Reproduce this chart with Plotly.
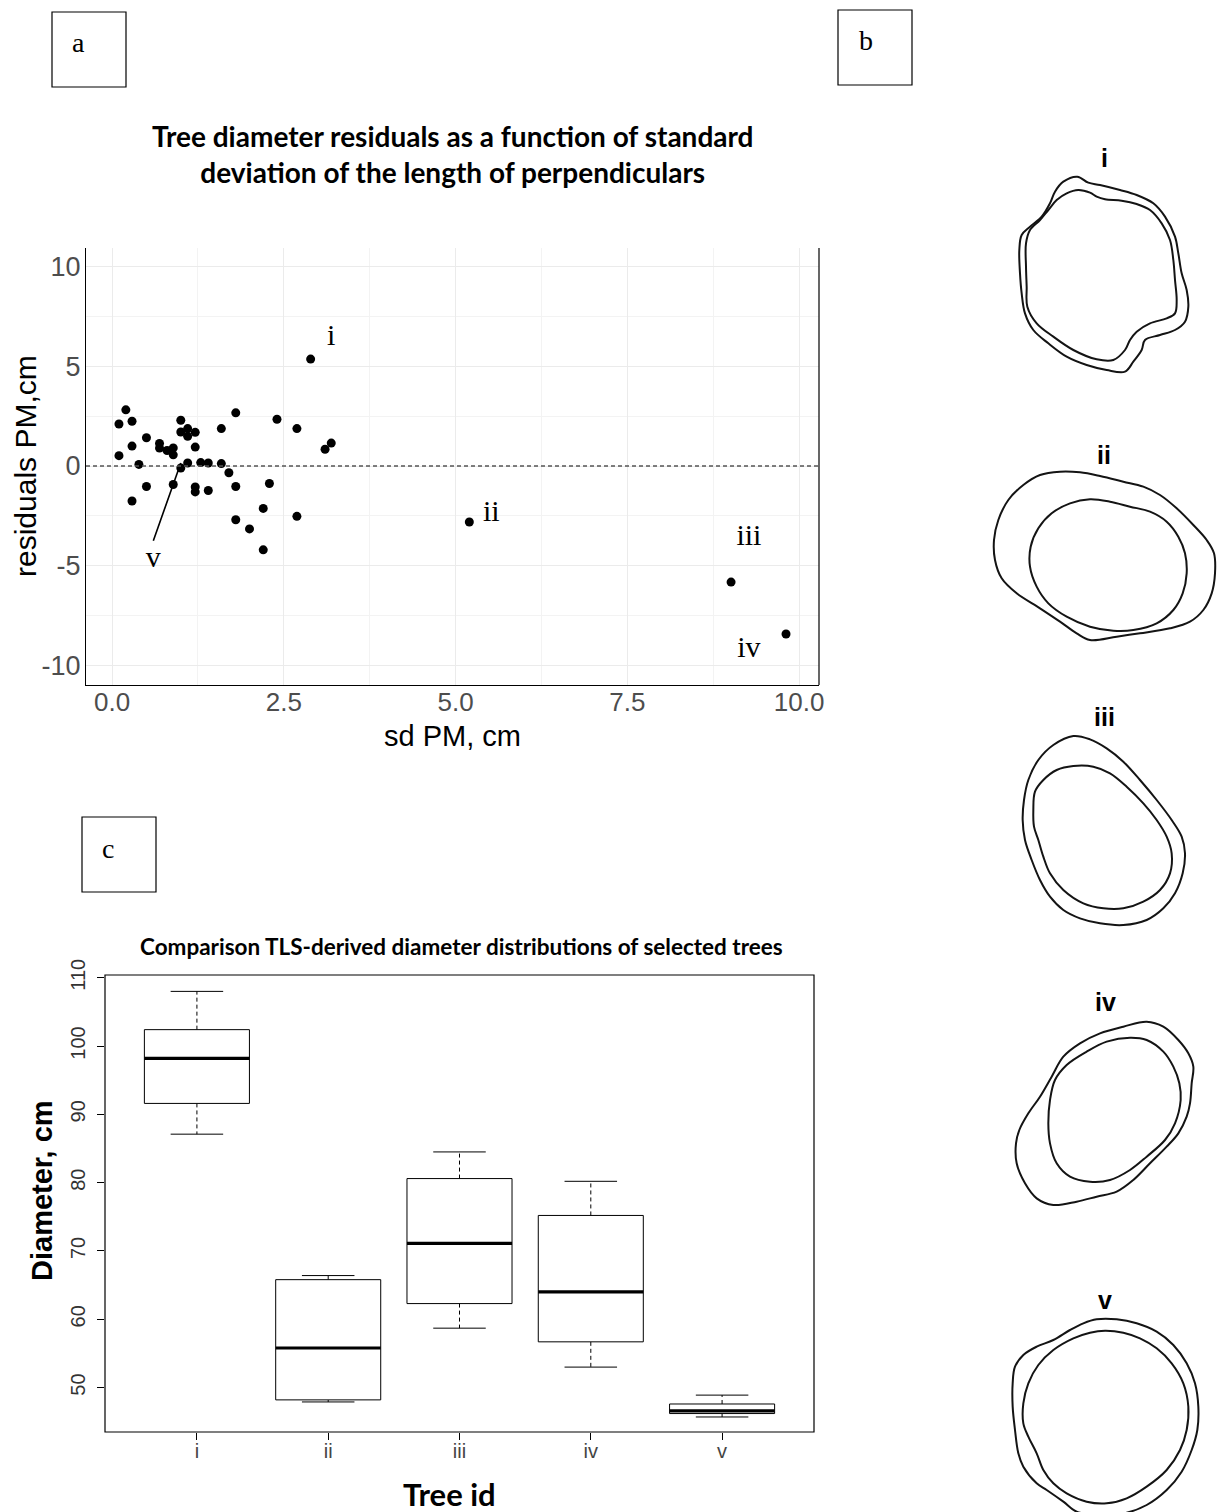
import plotly.graph_objects as go

W, H = 1221, 1512

# ---------------- Panel a data ----------------
sd_pm = [0.10, 0.20, 0.29, 0.10, 0.29, 0.50, 0.39, 0.50, 0.29, 0.69, 0.69, 0.80, 0.89, 0.89,
         1.00, 1.00, 1.10, 1.10, 1.21, 1.21, 1.10, 1.00, 0.89, 1.21, 1.21, 1.29, 1.40, 1.40,
         1.59, 1.59, 1.70, 1.80, 1.80, 1.80, 2.00, 2.20, 2.20, 2.29, 2.40, 2.69, 2.69, 2.89,
         3.10, 3.19, 5.20, 9.01, 9.81]
residuals = [2.11, 2.82, 2.25, 0.52, 1.00, 1.42, 0.08, -1.03, -1.76, 1.13, 0.90, 0.78, 0.91, 0.56,
             2.30, 1.71, 1.88, 1.49, 1.69, 0.95, 0.15, -0.10, -0.93, -1.05, -1.30, 0.17, 0.15, -1.23,
             1.88, 0.12, -0.34, 2.67, -1.03, -2.70, -3.16, -2.13, -4.21, -0.88, 2.35, 1.88, -2.53, 5.37,
             0.84, 1.15, -2.81, -5.83, -8.44]
scatter_labels = ["i", "ii", "iii", "iv", "v"]
scatter_label_x = [3.19, 5.52, 9.27, 9.27, 0.60]
scatter_label_y = [6.45, -2.40, -3.60, -9.20, -4.70]
v_pointer_x = [0.60, 1.00]
v_pointer_y = [-3.75, 0.15]
a_xticks = [0, 2.5, 5, 7.5, 10]
a_xticktext = ["0.0", "2.5", "5.0", "7.5", "10.0"]
a_yticks = [-10, -5, 0, 5, 10]
a_yticktext = ["-10", "-5", "0", "5", "10"]

# ---------------- Panel c data ----------------
tree_ids = ["i", "ii", "iii", "iv", "v"]
d_min = [87.1, 47.9, 58.7, 53.0, 45.7]
d_q1 = [91.6, 48.2, 62.3, 56.7, 46.2]
d_med = [98.2, 55.8, 71.1, 64.0, 46.6]
d_q3 = [102.4, 65.8, 80.6, 75.2, 47.6]
d_max = [108.0, 66.4, 84.5, 80.2, 48.9]
c_yticks = [50, 60, 70, 80, 90, 100, 110]

# ---------------- Panel b data (cross-section outlines, local coords) ----------------
outlines = {
    "i": {
        "outer": [(262,110),(295,128),(330,135),(390,150),(440,165),(490,190),(525,230),(555,290),
                  (565,340),(575,400),(590,450),(595,500),(585,545),(555,570),(510,585),(465,600),
                  (455,630),(430,665),(405,695),(350,690),(290,675),(230,650),(175,610),(130,570),
                  (105,520),(95,460),(90,400),(88,330),(95,285),(120,260),(155,230),(180,190),
                  (195,155),(220,125)],
        "inner": [(265,150),(300,158),(320,170),(345,178),(395,182),(440,192),(480,210),(515,250),
                  (540,300),(550,360),(555,420),(560,480),(555,520),(530,535),(480,550),(440,575),
                  (420,600),(405,630),(370,660),(320,658),(250,630),(190,590),(140,550),(112,500),
                  (110,440),(108,380),(108,310),(120,270),(150,240),(175,210),(200,180),(230,160)],
    },
    "ii": {
        "outer": [(210,95),(270,97),(330,108),(400,125),(460,140),(510,165),(560,205),(610,255),
                  (650,300),(672,340),(675,400),(665,460),(640,510),(600,545),(540,565),(450,580),
                  (380,590),(300,600),(260,580),(210,545),(150,505),(80,460),(35,415),(15,360),
                  (12,300),(25,240),(55,180),(100,135),(150,105)],
        "inner": [(300,178),(360,185),(420,200),(480,215),(530,245),(565,290),(585,340),(590,400),
                  (578,460),(550,510),(500,550),(430,570),(370,572),(300,560),(230,530),(175,490),
                  (140,440),(120,380),(122,320),(145,265),(185,220),(240,190)],
    },
    "iii": {
        "outer": [(250,108),(300,118),(350,145),(400,185),(450,240),(500,300),(545,360),(575,410),
                  (585,460),(578,520),(555,580),(520,625),(470,660),(400,675),(330,670),(270,655),
                  (220,630),(180,590),(150,540),(125,480),(105,420),(98,360),(102,300),(115,240),
                  (145,180),(190,135)],
        "inner": [(250,198),(310,200),(360,220),(410,260),(460,310),(500,360),(530,410),(545,460),
                  (540,520),(510,570),(460,605),(400,625),(340,625),(280,610),(220,570),(180,520),
                  (160,470),(145,420),(132,380),(130,330),(135,275),(160,240),(200,210)],
    },
    "iv": {
        "outer": [(470,95),(520,110),(565,150),(595,190),(610,230),(605,280),(600,340),(590,380),
                  (565,430),(530,470),(480,520),(430,570),(380,605),(320,620),(260,635),(190,645),
                  (140,625),(105,580),(80,520),(78,460),(88,420),(115,370),(150,320),(185,260),
                  (220,200),(270,160),(330,130),(400,110)],
        "inner": [(420,143),(470,150),(520,185),(550,230),(568,280),(572,330),(555,400),(525,450),
                  (470,500),(420,540),(360,570),(300,575),(240,560),(200,520),(180,460),(175,400),
                  (180,330),(195,270),(230,225),(290,185),(350,155)],
    },
    "v": {
        "outer": [(320,88),(380,88),(440,100),(500,125),(550,165),(590,220),(615,280),(625,350),
                  (622,420),(605,480),(575,545),(530,600),(470,645),(410,668),(340,675),(260,665),
                  (220,635),(170,600),(140,580),(100,530),(85,490),(75,420),(68,350),(68,280),
                  (75,230),(100,195),(140,170),(190,150),(240,120),(280,100)],
        "inner": [(345,122),(400,128),(450,145),(500,175),(545,220),(580,280),(595,350),(590,420),
                  (570,480),(530,540),(470,590),(410,625),(350,640),(290,635),(230,610),(190,580),
                  (160,540),(140,490),(115,440),(100,400),(100,340),(115,280),(145,225),(190,180),
                  (250,145),(300,128)],
    },
}

# ---------------- layout helpers ----------------
def px_x(x):
    return x / W

def px_y(y):
    return 1 - y / H

fig = go.Figure()

# ===== Panel a: scatter =====
fig.add_trace(go.Scatter(x=sd_pm, y=residuals, mode="markers",
                         marker=dict(color="black", size=9),
                         xaxis="x", yaxis="y", showlegend=False, hoverinfo="skip"))
fig.add_trace(go.Scatter(x=v_pointer_x, y=v_pointer_y, mode="lines",
                         line=dict(color="black", width=1.6),
                         xaxis="x", yaxis="y", showlegend=False, hoverinfo="skip"))
fig.add_trace(go.Scatter(x=scatter_label_x, y=scatter_label_y, mode="text", text=scatter_labels,
                         textfont=dict(family="Liberation Serif", size=30, color="black"),
                         xaxis="x", yaxis="y", showlegend=False, hoverinfo="skip"))

# ===== Panel c: boxplots drawn from stats =====
box_half = 0.4
cap_half = 0.2
bx, by, mx, my, wx, wy, cx, cy = [], [], [], [], [], [], [], []
for i in range(len(tree_ids)):
    p = i + 1
    bx += [p - box_half, p + box_half, p + box_half, p - box_half, p - box_half, None]
    by += [d_q1[i], d_q1[i], d_q3[i], d_q3[i], d_q1[i], None]
    mx += [p - box_half, p + box_half, None]
    my += [d_med[i], d_med[i], None]
    wx += [p, p, None, p, p, None]
    wy += [d_q3[i], d_max[i], None, d_q1[i], d_min[i], None]
    cx += [p - cap_half, p + cap_half, None, p - cap_half, p + cap_half, None]
    cy += [d_max[i], d_max[i], None, d_min[i], d_min[i], None]

fig.add_trace(go.Scatter(x=wx, y=wy, mode="lines", line=dict(color="black", width=1, dash="4px,3px"),
                         xaxis="x2", yaxis="y2", showlegend=False, hoverinfo="skip"))
fig.add_trace(go.Scatter(x=cx, y=cy, mode="lines", line=dict(color="black", width=1),
                         xaxis="x2", yaxis="y2", showlegend=False, hoverinfo="skip"))
fig.add_trace(go.Scatter(x=bx, y=by, mode="lines", line=dict(color="black", width=1),
                         fill="toself", fillcolor="white",
                         xaxis="x2", yaxis="y2", showlegend=False, hoverinfo="skip"))
fig.add_trace(go.Scatter(x=mx, y=my, mode="lines", line=dict(color="black", width=3.2),
                         xaxis="x2", yaxis="y2", showlegend=False, hoverinfo="skip"))

# ===== Panel b: outlines =====
crop_boxes = {  # pixel regions (x0, y0, width, height); local coords are 3x
    "i": (990, 140, 230, 240),
    "ii": (990, 440, 230, 210),
    "iii": (990, 700, 230, 230),
    "iv": (990, 990, 230, 220),
    "v": (990, 1290, 230, 222),
}
label_pos = {"i": (1104, 158), "ii": (1104, 455), "iii": (1104, 717), "iv": (1105, 1002), "v": (1105, 1300)}

layout_axes = {}
for k, name in enumerate(tree_ids):
    ax_n = k + 3
    x0, y0, w, h = crop_boxes[name]
    for ring in ("outer", "inner"):
        pts = outlines[name][ring] + [outlines[name][ring][0]]
        fig.add_trace(go.Scatter(x=[p[0] for p in pts], y=[p[1] for p in pts], mode="lines",
                                 line=dict(color="#141414", width=2, shape="spline", smoothing=1.0),
                                 xaxis=f"x{ax_n}", yaxis=f"y{ax_n}", showlegend=False, hoverinfo="skip"))
    layout_axes[f"xaxis{ax_n}"] = dict(domain=[px_x(x0), px_x(x0 + w)], range=[0, w * 3],
                                       visible=False, anchor=f"y{ax_n}", fixedrange=True, automargin=False)
    layout_axes[f"yaxis{ax_n}"] = dict(domain=[px_y(y0 + h), px_y(y0)], range=[h * 3, 0],
                                       visible=False, anchor=f"x{ax_n}", fixedrange=True, automargin=False)

annotations = []
shapes = []

# Panel b labels
for name in tree_ids:
    lx, ly = label_pos[name]
    annotations.append(dict(x=px_x(lx), y=px_y(ly), xref="paper", yref="paper", text=f"<b>{name}</b>",
                            showarrow=False, font=dict(family="Liberation Sans", size=25, color="black"),
                            xanchor="center", yanchor="middle"))

# Panel letters with boxes
for letter, (bx0, by0, bx1, by1), (tx, ty) in [
    ("a", (52, 12, 126, 87), (79, 42)),
    ("b", (838, 10, 912, 85), (866, 40)),
    ("c", (82, 817, 156, 892), (108, 848)),
]:
    shapes.append(dict(type="rect", xref="paper", yref="paper", x0=px_x(bx0), x1=px_x(bx1),
                       y0=px_y(by1), y1=px_y(by0), line=dict(color="black", width=1.2)))
    annotations.append(dict(x=px_x(tx), y=px_y(ty), xref="paper", yref="paper", text=letter,
                            showarrow=False, font=dict(family="Liberation Serif", size=28, color="black"),
                            xanchor="center", yanchor="middle"))

# Panel a title & axis titles
annotations.append(dict(x=px_x(452), y=px_y(154), xref="paper", yref="paper",
                        text="<b>Tree diameter residuals as a function of standard<br>deviation of the length of perpendiculars</b>",
                        showarrow=False, align="center", font=dict(family="Lato", size=28, color="black"),
                        xanchor="center", yanchor="middle"))
annotations.append(dict(x=px_x(452), y=px_y(736), xref="paper", yref="paper", text="sd PM, cm",
                        showarrow=False, font=dict(family="Liberation Sans", size=29, color="black"),
                        xanchor="center", yanchor="middle"))
annotations.append(dict(x=px_x(26), y=px_y(466), xref="paper", yref="paper", text="residuals PM,cm",
                        showarrow=False, textangle=-90, font=dict(family="Liberation Sans", size=30, color="black"),
                        xanchor="center", yanchor="middle"))

# Panel c title & axis titles
annotations.append(dict(x=px_x(461), y=px_y(947), xref="paper", yref="paper",
                        text="<b>Comparison TLS-derived diameter distributions of selected trees</b>",
                        showarrow=False, font=dict(family="Lato", size=22.5, color="black"),
                        xanchor="center", yanchor="middle"))
annotations.append(dict(x=px_x(449), y=px_y(1494), xref="paper", yref="paper", text="<b>Tree id</b>",
                        showarrow=False, font=dict(family="Lato", size=31, color="black"),
                        xanchor="center", yanchor="middle"))
annotations.append(dict(x=px_x(42), y=px_y(1191), xref="paper", yref="paper", text="<b>Diameter, cm</b>",
                        showarrow=False, textangle=-90, font=dict(family="Liberation Sans", size=29, color="black"),
                        xanchor="center", yanchor="middle"))

# Panel a: zero dashed line and right border
shapes.append(dict(type="line", xref="x domain", yref="y", x0=0, x1=1, y0=0, y1=0,
                   line=dict(color="#555555", width=1.3, dash="4px,3px")))
shapes.append(dict(type="line", xref="x domain", yref="y domain", x0=1, x1=1, y0=0, y1=1,
                   line=dict(color="black", width=1.2)))
# Panel c frame
shapes.append(dict(type="rect", xref="x2 domain", yref="y2 domain", x0=0, x1=1, y0=0, y1=1,
                   line=dict(color="black", width=1.2)))

fig.update_layout(
    width=W, height=H, margin=dict(l=0, r=0, t=0, b=0, autoexpand=False),
    paper_bgcolor="white", plot_bgcolor="white", showlegend=False,
    xaxis=dict(domain=[px_x(86), px_x(819)], range=[-0.38, 10.29], anchor="y", automargin=False,
               tickvals=a_xticks, ticktext=a_xticktext, showgrid=True, gridcolor="#ebebeb", gridwidth=1.2,
               minor=dict(tickvals=[1.25, 3.75, 6.25, 8.75], showgrid=True, gridcolor="#f3f3f3", gridwidth=0.7),
               zeroline=False, showline=True, linecolor="black", linewidth=1.2, ticks="",
               ticklabelstandoff=-6,
               tickfont=dict(family="Liberation Sans", size=26, color="#4d4d4d"), fixedrange=True),
    yaxis=dict(domain=[px_y(685), px_y(248)], range=[-11.0, 10.95], anchor="x", automargin=False,
               tickvals=a_yticks, ticktext=a_yticktext, showgrid=True, gridcolor="#ebebeb", gridwidth=1.2,
               minor=dict(tickvals=[-7.5, -2.5, 2.5, 7.5], showgrid=True, gridcolor="#f3f3f3", gridwidth=0.7),
               zeroline=False, showline=True, linecolor="black", linewidth=1.2, ticks="",
               ticklabelstandoff=-1,
               tickfont=dict(family="Liberation Sans", size=27, color="#4d4d4d"), fixedrange=True),
    xaxis2=dict(domain=[px_x(105), px_x(814)], range=[0.3, 5.7], anchor="y2", automargin=False,
                tickvals=[1, 2, 3, 4, 5], ticktext=tree_ids, showgrid=False, zeroline=False,
                showline=False, ticks="outside", ticklen=7, tickcolor="black", tickwidth=1,
                ticklabelstandoff=-6,
                tickfont=dict(family="Liberation Sans", size=20, color="#444444"), fixedrange=True),
    yaxis2=dict(domain=[px_y(1432), px_y(975)], range=[43.5, 110.4], anchor="x2", automargin=False,
                tickvals=c_yticks, showgrid=False, zeroline=False, showline=False,
                ticks="outside", ticklen=7, tickcolor="black", tickwidth=1, tickangle=-90,
                ticklabelstandoff=4,
                tickfont=dict(family="Liberation Sans", size=20, color="#333333"), fixedrange=True),
    annotations=annotations, shapes=shapes,
    **layout_axes,
)

fig.write_html("out.html")
